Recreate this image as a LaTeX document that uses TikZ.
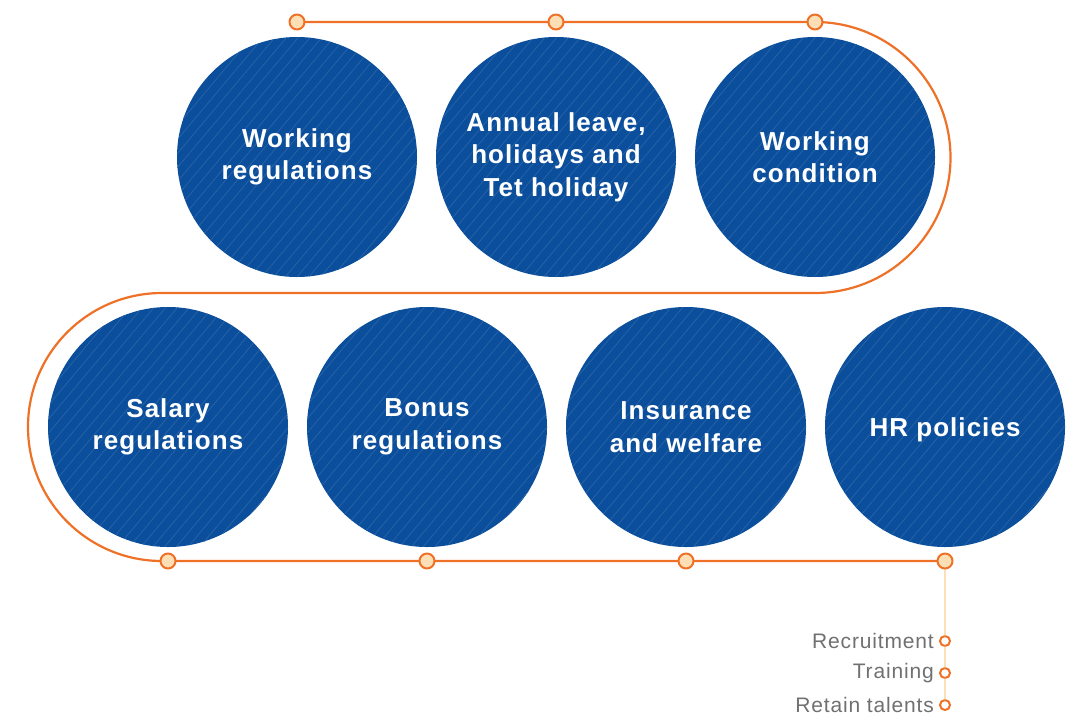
\documentclass[tikz,border=0pt]{standalone}
\usepackage{fontspec}
\setmainfont{Liberation Sans}
\newfontfamily\boxfont[LetterSpace=4]{Liberation Sans}
\usetikzlibrary{patterns.meta}
\definecolor{hrblue}{HTML}{0B4F9C}
\definecolor{hrhatch}{HTML}{2A64A8}
\definecolor{hrorange}{HTML}{EE7127}
\definecolor{hrpeach}{HTML}{FDDFB5}
\definecolor{hrgray}{HTML}{707070}

\begin{document}
\begin{tikzpicture}[x=1pt, y=-1pt, line cap=round, line join=round]
	\tikzset{
		topic/.style={circle, minimum size=240pt, inner sep=0pt, align=center, text=white,
			font=\boxfont\bfseries\fontsize{26}{32.5}\selectfont,
			preaction={fill=hrblue},
			pattern={Lines[angle=50, distance=9pt, line width=0.7pt]}, pattern color=hrhatch},
		stop/.style={circle, draw=hrorange, line width=2pt, fill=hrpeach, minimum size=15pt, inner sep=0pt},
		substop/.style={circle, draw=hrorange, line width=2pt, fill=white, minimum size=10pt, inner sep=0pt},
		sublabel/.style={anchor=east, xshift=-5pt, inner sep=0pt, text=hrgray, font=\boxfont\fontsize{21}{21}\selectfont}
	}
	\useasboundingbox (0,0) rectangle (1067,715);

	% stops on the track
	\coordinate (t1) at (297,22);
	\coordinate (t2) at (556,22);
	\coordinate (t3) at (815,22);
	\coordinate (b1) at (168,561);
	\coordinate (b2) at (427,561);
	\coordinate (b3) at (686,561);
	\coordinate (b4) at (945,561);

	% track (y axis points down, so the arc angles are flipped)
	\draw[hrorange, line width=2.2pt] (t1) -- (t3)
		arc[start angle=-90, end angle=90, radius=135.5] -- (162,293)
		arc[start angle=-90, end angle=-270, radius=134] -- (b4);

	% branch below the last stop
	\node[substop] (s1) at (945,641) {};
	\node[substop] (s2) at (945,673) {};
	\node[substop] (s3) at (945,705) {};
	\draw[hrpeach, line width=1.4pt] (b4) -- (s1) -- (s2) -- (s3);
	\node[sublabel] at (s1.west) {Recruitment};
	\node[sublabel] at (s2.west) {Training};
	\node[sublabel] at (s3.west) {Retain talents};

	\foreach \p in {t1,t2,t3,b1,b2,b3,b4}
		\node[stop] at (\p) {};

	% topics
	\node[topic] (work) at (297,157) {Working\\regulations};
	\node[topic] (leave) at (556,157) {Annual leave,\\holidays and\\Tet holiday};
	\node[topic] (cond) at (815,157) {Working\\condition};
	\node[topic] (salary) at (168,427) {Salary\\regulations};
	\node[topic] (bonus) at (427,427) {Bonus\\regulations};
	\node[topic] (ins) at (686,427) {Insurance\\and welfare};
	\node[topic, text height=25pt, text depth=6pt] (hr) at (945,427) {HR policies};
\end{tikzpicture}
\end{document}
